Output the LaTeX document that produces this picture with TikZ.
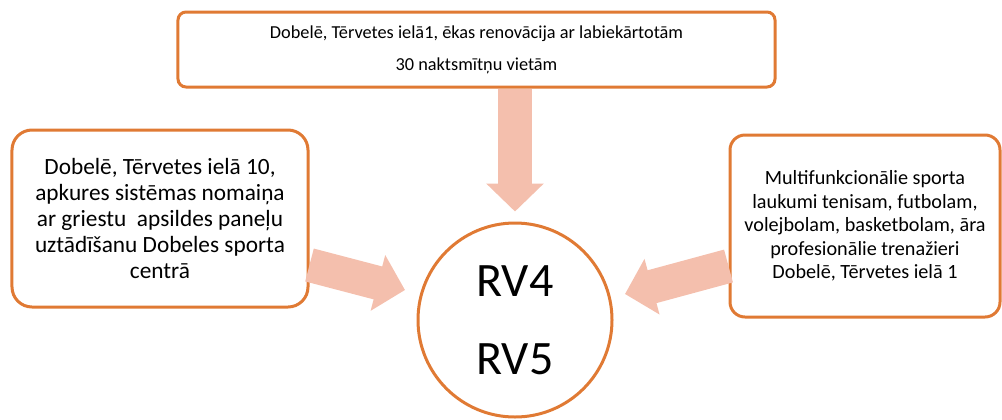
\documentclass[tikz,border=0pt]{standalone}
\usepackage{fontspec}
\setmainfont{Carlito}
\usetikzlibrary{arrows.meta,calc}
\definecolor{rim}{HTML}{E07A34}
\definecolor{salmon}{HTML}{F4BFAD}
\tikzset{
  infobox/.style={draw=rim,line width=3bp,fill=white,align=center,inner sep=0pt},
  hub/.style={circle,draw=rim,line width=3bp,minimum size=194bp,align=center,inner sep=0pt},
  bigarrow/.style={draw=salmon,line width=34bp,-{Triangle[width=56bp,length=28bp]}}
}
\begin{document}
\begin{tikzpicture}[x=1bp,y=-1bp]
        \useasboundingbox(0,0)rectangle(1002,419);
        % boxes round the hub
        \node[infobox,rounded corners=8bp,minimum width=597bp,minimum height=75bp,font=\fontsize{18.3bp}{32bp}\selectfont](top)at(476.5,49.5){Dobelē, Tērvetes ielā1, ēkas renovācija ar labiekārtotām\\30 naktsmītņu vietām};
        \node[infobox,rounded corners=20bp,minimum width=296bp,minimum height=177bp,font=\fontsize{23.3bp}{26bp}\selectfont](lbox)at(160,218.5){Dobelē, Tērvetes ielā 10,\\apkures sistēmas nomaiņa\\ar griestu\ \ apsildes paneļu\\uztādīšanu Dobeles sporta\\centrā};
        \node[infobox,rounded corners=15bp,minimum width=270bp,minimum height=182bp,font=\fontsize{20.2bp}{23.5bp}\selectfont](rbox)at(865,226){Multifunkcionālie sporta\\laukumi tenisam, futbolam,\\volejbolam, basketbolam, āra\\profesionālie trenažieri\\Dobelē, Tērvetes ielā 1};
        \node[hub,font=\fontsize{48bp}{78bp}\selectfont](rv)at(515,320){RV4\\RV5};
        % arrows
        \coordinate(ltip)at(405,290);
        \coordinate(rtip)at(625,294);
        \draw[bigarrow](rv.north|-top.south)--([yshift=10bp]rv.north);
        \draw[bigarrow]($(lbox.east)+(0,46.5)$)--(ltip);
        \draw[bigarrow]($(rbox.west)+(0,40)$)--(rtip);
\end{tikzpicture}
\end{document}
